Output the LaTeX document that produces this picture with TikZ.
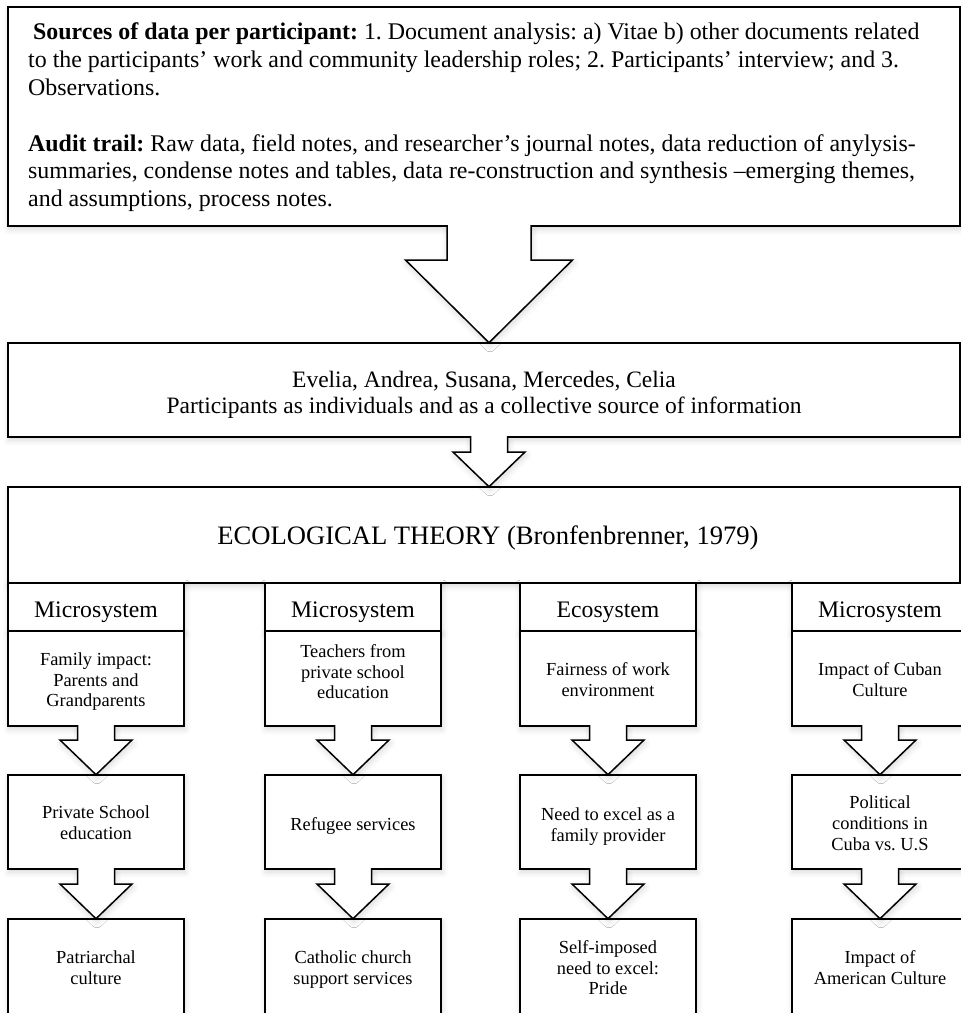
\documentclass[tikz,border=0pt]{standalone}
\usepackage{fontspec}
\setmainfont{Liberation Serif}
\usetikzlibrary{calc,shadows.blur}
\frenchspacing
\newcommand\blockarr[6]{%
  \draw[barrow] ($(#1.south)+(#3-#4,-0.8)$) -- ($(#1.south)+(#3-#4,#6)$) -- ($(#1.south)+(#3-#5,#6)$) -- ($(#2.north)+(#3,-0.3)$) -- ($(#1.south)+(#3+#5,#6)$) -- ($(#1.south)+(#3+#4,#6)$) -- ($(#1.south)+(#3+#4,-0.8)$);}
\begin{document}
\begin{tikzpicture}[x=1pt,y=-1pt,
  shad/.style={blur shadow={shadow xshift=1pt, shadow yshift=-3pt, shadow blur radius=6pt, shadow opacity=16}},
  box/.style={draw=black, line width=1.5pt, fill=white, inner sep=0pt, outer sep=0pt, anchor=north west, shad},
  barrow/.style={draw=black, line width=1.5pt, fill=white, line join=miter, shad},
  txt/.style={inner sep=0pt, outer sep=0pt, align=center, font=\fontsize{18.4}{20.7}\selectfont},
  head/.style={inner sep=0pt, outer sep=0pt, anchor=base, font=\fontsize{23.7}{26}\selectfont},
]
\useasboundingbox (0,0) rectangle (961,1013);

% big boxes
\node[box, minimum width=952, minimum height=219] (src) at (8,7) {};
\node[box, minimum width=952, minimum height=94] (part) at (8,343) {};
\node[box, minimum width=952, minimum height=96] (eco) at (8,487) {};

% columns
\foreach \i/\x in {1/8,2/265,3/520,4/792}{
  \node[box, minimum width=176, minimum height=48] (h\i) at (\x,583) {};
  \node[box, minimum width=176, minimum height=95] (b\i) at (\x,631) {};
  \node[box, minimum width=176, minimum height=94] (m\i) at (\x,775) {};
  \node[box, minimum width=176, minimum height=110] (l\i) at (\x,919) {};
}

% block arrows
\blockarr{src}{part}{5}{42}{83.5}{34}
\blockarr{part}{eco}{5}{18.5}{36}{15}
\foreach \i in {1,...,4}{
  \blockarr{b\i}{m\i}{0}{18.5}{36}{14}
  \blockarr{m\i}{l\i}{0}{18.5}{36}{15}
}

% texts
\node[anchor=west, align=left, inner sep=0pt, font=\fontsize{23.9}{27.8}\selectfont] (srctxt) at (28,117.5)
{\hspace*{5pt}\textbf{Sources of data per participant:} 1. Document analysis: a) Vitae b) other documents related\\
to the participants’ work and community leadership roles; 2. Participants’ interview; and 3.\\
Observations.\\[27.8pt]
\textbf{Audit trail:} Raw data, field notes, and researcher’s journal notes, data reduction of anylysis-\\
summaries, condense notes and tables, data re-construction and synthesis –emerging themes,\\
and assumptions, process notes.};

\node[txt, font=\fontsize{23.5}{26}\selectfont] (parttxt) at (484,394.5)
{Evelia, Andrea, Susana, Mercedes, Celia\\Participants as individuals and as a collective source of information};

\node[inner sep=0pt, anchor=base, font=\fontsize{26.6}{30}\selectfont] (ecotxt) at (488,544) {ECOLOGICAL THEORY (Bronfenbrenner, 1979)};

\node[head] (h1t) at (96,617) {Microsystem};
\node[head] (h2t) at (353,617) {Microsystem};
\node[head] (h3t) at (608,617) {Ecosystem};
\node[head] (h4t) at (880,617) {Microsystem};

\node[txt] (b1t) at (96,681.7) {Family impact:\\Parents and\\Grandparents};
\node[txt] (b2t) at (353,671.8) {Teachers from\\private school\\education};
\node[txt] (b3t) at (608,679.3) {Fairness of work\\environment};
\node[txt] (b4t) at (880,679.8) {Impact of Cuban\\Culture};

\node[txt] (m1t) at (96,822.8) {Private School\\education};
\node[txt, anchor=base] (m2t) at (353,830) {Refugee services};
\node[txt] (m3t) at (608,826.6) {Need to excel as a\\family provider};
\node[txt] (m4t) at (880,823.3) {Political\\conditions in\\Cuba vs. U.S};

\node[txt] (l1t) at (96,967.8) {Patriarchal\\culture};
\node[txt] (l2t) at (353,969.6) {Catholic church\\support services};
\node[txt] (l3t) at (608,967.8) {Self-imposed\\need to excel:\\Pride};
\node[txt] (l4t) at (880,967.8) {Impact of\\American Culture};
\end{tikzpicture}
\end{document}
